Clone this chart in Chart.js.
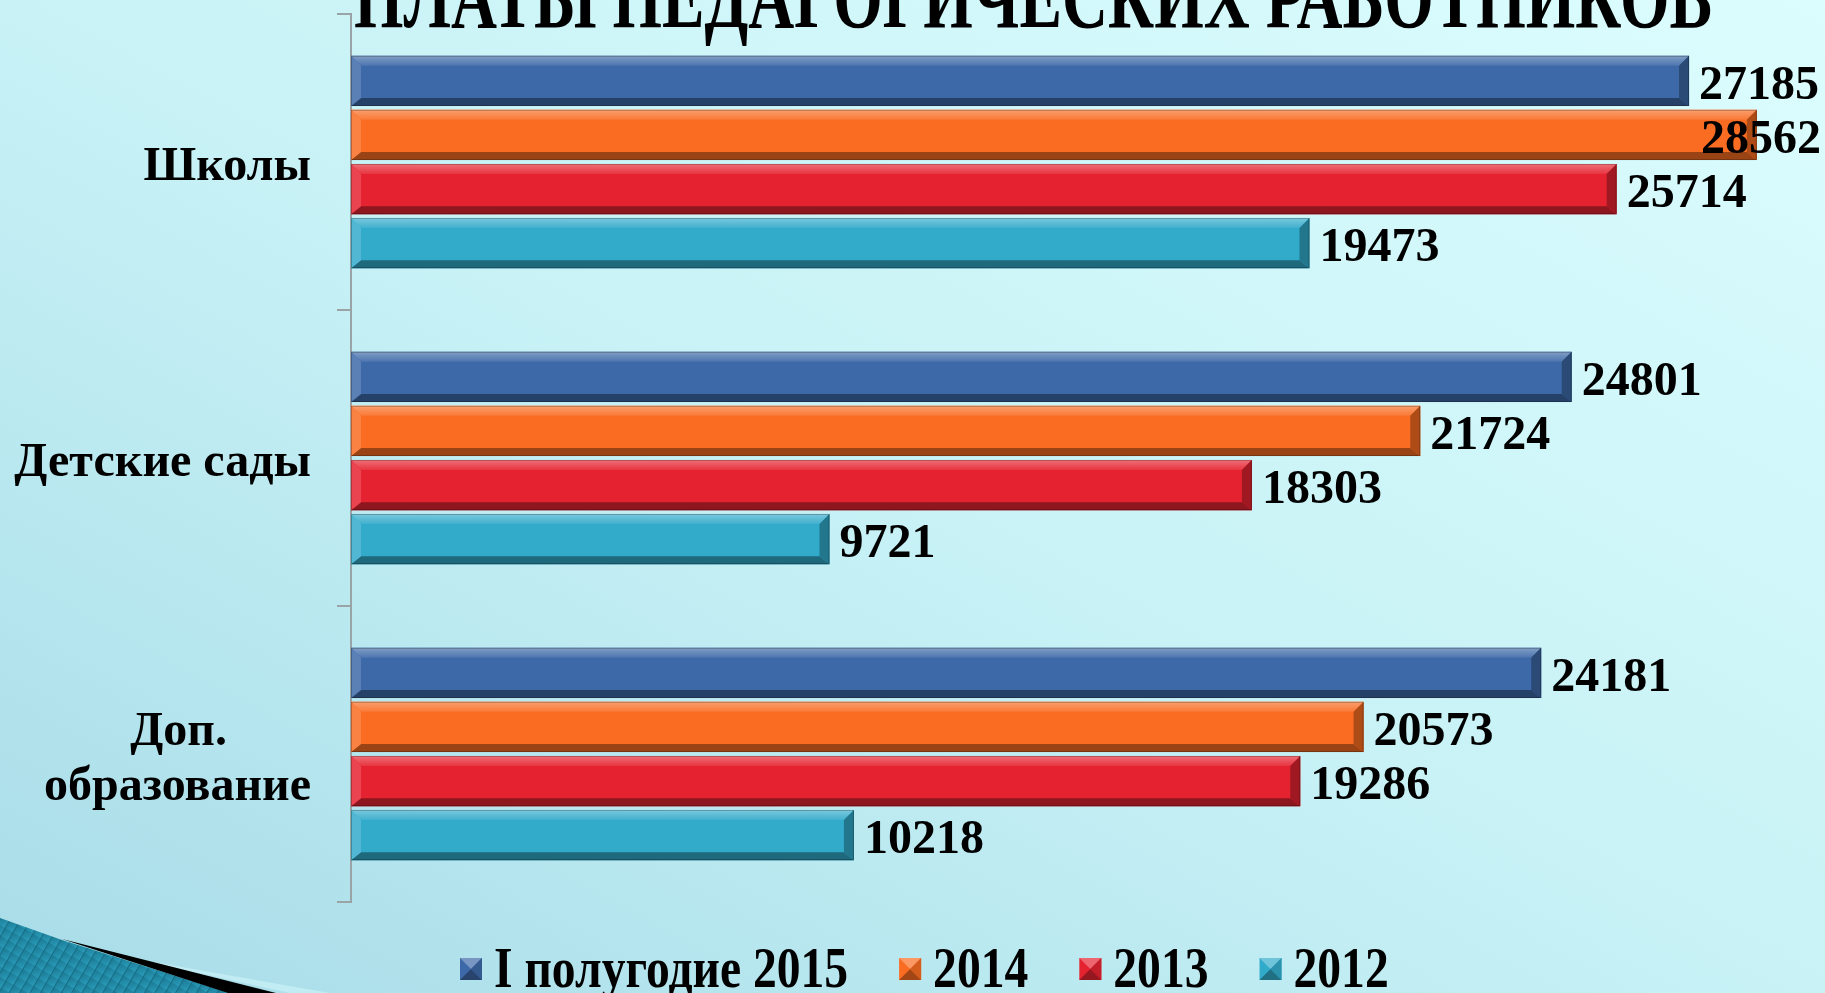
<!DOCTYPE html>
<html>
<head>
<meta charset="utf-8">
<script src="https://cdn.jsdelivr.net/npm/chart.js@4.4.1/dist/chart.umd.min.js"></script>
<style>
html, body { margin: 0; padding: 0; overflow: hidden; }
body {
    width: 1825px; height: 993px; position: relative;
    background: linear-gradient(to bottom left, #dcfdfe 0%, #c8f2f6 50%, #a8dce8 100%);
}
#deco { position: absolute; left: 0; top: 0; }
#wrap { position: absolute; left: 0; top: 0; width: 1825px; height: 993px; }
</style>
</head>
<body>
<svg id="deco" width="1825" height="993">
    <defs>
        <linearGradient id="teal" x1="0" y1="0" x2="1" y2="1">
            <stop offset="0" stop-color="#1a7790"/>
            <stop offset="1" stop-color="#2a9cba"/>
        </linearGradient>
        <pattern id="stripes" width="9" height="9" patternUnits="userSpaceOnUse" patternTransform="rotate(30)">
            <rect width="9" height="9" fill="url(#teal)"/>
            <line x1="0" y1="0" x2="0" y2="9" stroke="#166c84" stroke-width="2"/>
        </pattern>
    </defs>
    <polygon points="130,958 330,993 290,993" fill="#c2ecf3"/>
    <polygon points="0,918 62,940 230,993 0,993" fill="url(#stripes)"/>
    <polygon points="62,939 276,993 228,993" fill="#000"/>
</svg>
<div id="wrap"><canvas id="myChart"></canvas></div>
<script>
// categories and values
var categories = ['Школы', 'Детские сады', ['Доп.       ', 'образование']];
var seriesNames = ['I полугодие 2015', '2014', '2013', '2012'];
var h2015 = [27185, 24801, 24181];
var y2014 = [28562, 21724, 20573];
var y2013 = [25714, 18303, 19286];
var y2012 = [19473, 9721, 10218];
var titleText = 'ПЛАТЫ ПЕДАГОГИЧЕСКИХ РАБОТНИКОВ';

var colors = ['#3d69a8', '#f96c22', '#e52330', '#32aaca'];
var serif = '"Liberation Serif", "Times New Roman", serif';

function shade(hex, amt) {
    var n = parseInt(hex.slice(1), 16);
    var r = n >> 16, g = (n >> 8) & 255, b = n & 255;
    var t = amt < 0 ? 0 : 255, p = Math.abs(amt);
    return 'rgb(' + Math.round(r + (t - r) * p) + ',' + Math.round(g + (t - g) * p) + ',' + Math.round(b + (t - b) * p) + ')';
}

function poly(c, pts, fill) {
    c.beginPath();
    c.moveTo(pts[0][0], pts[0][1]);
    for (var i = 1; i < pts.length; i++) c.lineTo(pts[i][0], pts[i][1]);
    c.closePath();
    c.fillStyle = fill;
    c.fill();
}

// bevel look on the bars + value labels
var barsPlugin = {
    id: 'bars3d',
    afterDatasetsDraw: function(chart) {
        var c = chart.ctx;
        c.save();
        chart.data.datasets.forEach(function(ds, i) {
            var meta = chart.getDatasetMeta(i);
            meta.data.forEach(function(bar) {
                var p = bar.getProps(['x', 'y', 'base', 'height'], true);
                var l = p.base, r = p.x, t = p.y - p.height / 2, b = p.y + p.height / 2, k = 10;
                var col = ds.backgroundColor;
                var g = c.createLinearGradient(0, t, 0, t + k);
                g.addColorStop(0, shade(col, 0.35));
                g.addColorStop(1, shade(col, 0.08));
                poly(c, [[l, t], [r, t], [r - k, t + k], [l + k, t + k]], g);
                poly(c, [[l, b], [r, b], [r - k, b - k + 2], [l + k, b - k + 2]], shade(col, -0.38));
                poly(c, [[l, t], [l + k, t + k], [l + k, b - k + 2], [l, b]], shade(col, 0.15));
                poly(c, [[r, t], [r - k, t + k], [r - k, b - k + 2], [r, b]], shade(col, -0.3));
                c.strokeStyle = 'rgba(0,0,0,0.25)';
                c.lineWidth = 1;
                c.strokeRect(l + 0.5, t + 0.5, r - l - 1, b - t - 1);
            });
        });
        c.font = 'bold 48px ' + serif;
        c.fillStyle = '#000';
        c.textBaseline = 'middle';
        c.textAlign = 'left';
        chart.data.datasets.forEach(function(ds, i) {
            var meta = chart.getDatasetMeta(i);
            meta.data.forEach(function(bar, j) {
                var txt = String(ds.data[j]);
                var w = c.measureText(txt).width;
                var x = bar.x + 10;
                if (x + w > chart.width - 4) x = chart.width - 4 - w;
                c.fillText(txt, x, bar.y + 6);
            });
        });
        c.restore();
    }
};

// cut-off title and legend at the bottom
var textPlugin = {
    id: 'extraText',
    afterDraw: function(chart) {
        var c = chart.ctx;
        c.save();
        c.fillStyle = '#000';
        c.textBaseline = 'alphabetic';
        c.textAlign = 'left';
        c.font = 'bold 88px ' + serif;
        var tw = c.measureText(titleText).width;
        c.translate(354, 27);
        c.scale(1358 / tw, 1);
        c.fillText(titleText, 0, 0);
        c.restore();

        c.save();
        c.font = 'bold 56px ' + serif;
        c.textBaseline = 'alphabetic';
        var x = 460, sx = 0.85, box = 22;
        for (var i = 0; i < seriesNames.length; i++) {
            var col = colors[i];
            poly(c, [[x, 958], [x + box, 958], [x + box, 980], [x, 980]], col);
            poly(c, [[x, 958], [x + box, 958], [x + box / 2, 969]], shade(col, 0.3));
            poly(c, [[x, 980], [x + box, 980], [x + box / 2, 969]], shade(col, -0.35));
            poly(c, [[x + box, 958], [x + box, 980], [x + box / 2, 969]], shade(col, -0.15));
            c.fillStyle = '#000';
            var w = c.measureText(seriesNames[i]).width * sx;
            c.save();
            c.translate(x + box + 12, 987);
            c.scale(sx, 1);
            c.fillText(seriesNames[i], 0, 0);
            c.restore();
            x += box + 12 + w + 51;
        }
        c.restore();
    }
};

var ctx = document.getElementById('myChart').getContext('2d');
var myChart = new Chart(ctx, {
    type: 'bar',
    data: {
        labels: categories,
        datasets: [
            { label: seriesNames[0], data: h2015, backgroundColor: colors[0] },
            { label: seriesNames[1], data: y2014, backgroundColor: colors[1] },
            { label: seriesNames[2], data: y2013, backgroundColor: colors[2] },
            { label: seriesNames[3], data: y2012, backgroundColor: colors[3] }
        ]
    },
    options: {
        indexAxis: 'y',
        responsive: true,
        maintainAspectRatio: false,
        animation: false,
        layout: { padding: { left: 0, top: 14, right: 22, bottom: 91 } },
        categoryPercentage: 0.73,
        barPercentage: 0.93,
        plugins: {
            legend: { display: false },
            tooltip: { enabled: false },
            title: { display: false }
        },
        scales: {
            x: { display: false, min: 0, max: 29500 },
            y: {
                afterFit: function(scale) {
                    scale.width = 351;
                    scale.paddingTop = 0;
                    scale.paddingBottom = 0;
                },
                border: { display: true, color: '#9aa3a6', width: 2 },
                grid: { drawOnChartArea: false, drawTicks: true, tickLength: 14, color: '#9aa3a6', lineWidth: 2 },
                ticks: {
                    padding: 26,
                    labelOffset: 6,
                    color: '#000',
                    font: { family: serif, size: 48, weight: 'bold', lineHeight: 1.16 }
                }
            }
        }
    },
    plugins: [barsPlugin, textPlugin]
});
</script>
</body>
</html>
